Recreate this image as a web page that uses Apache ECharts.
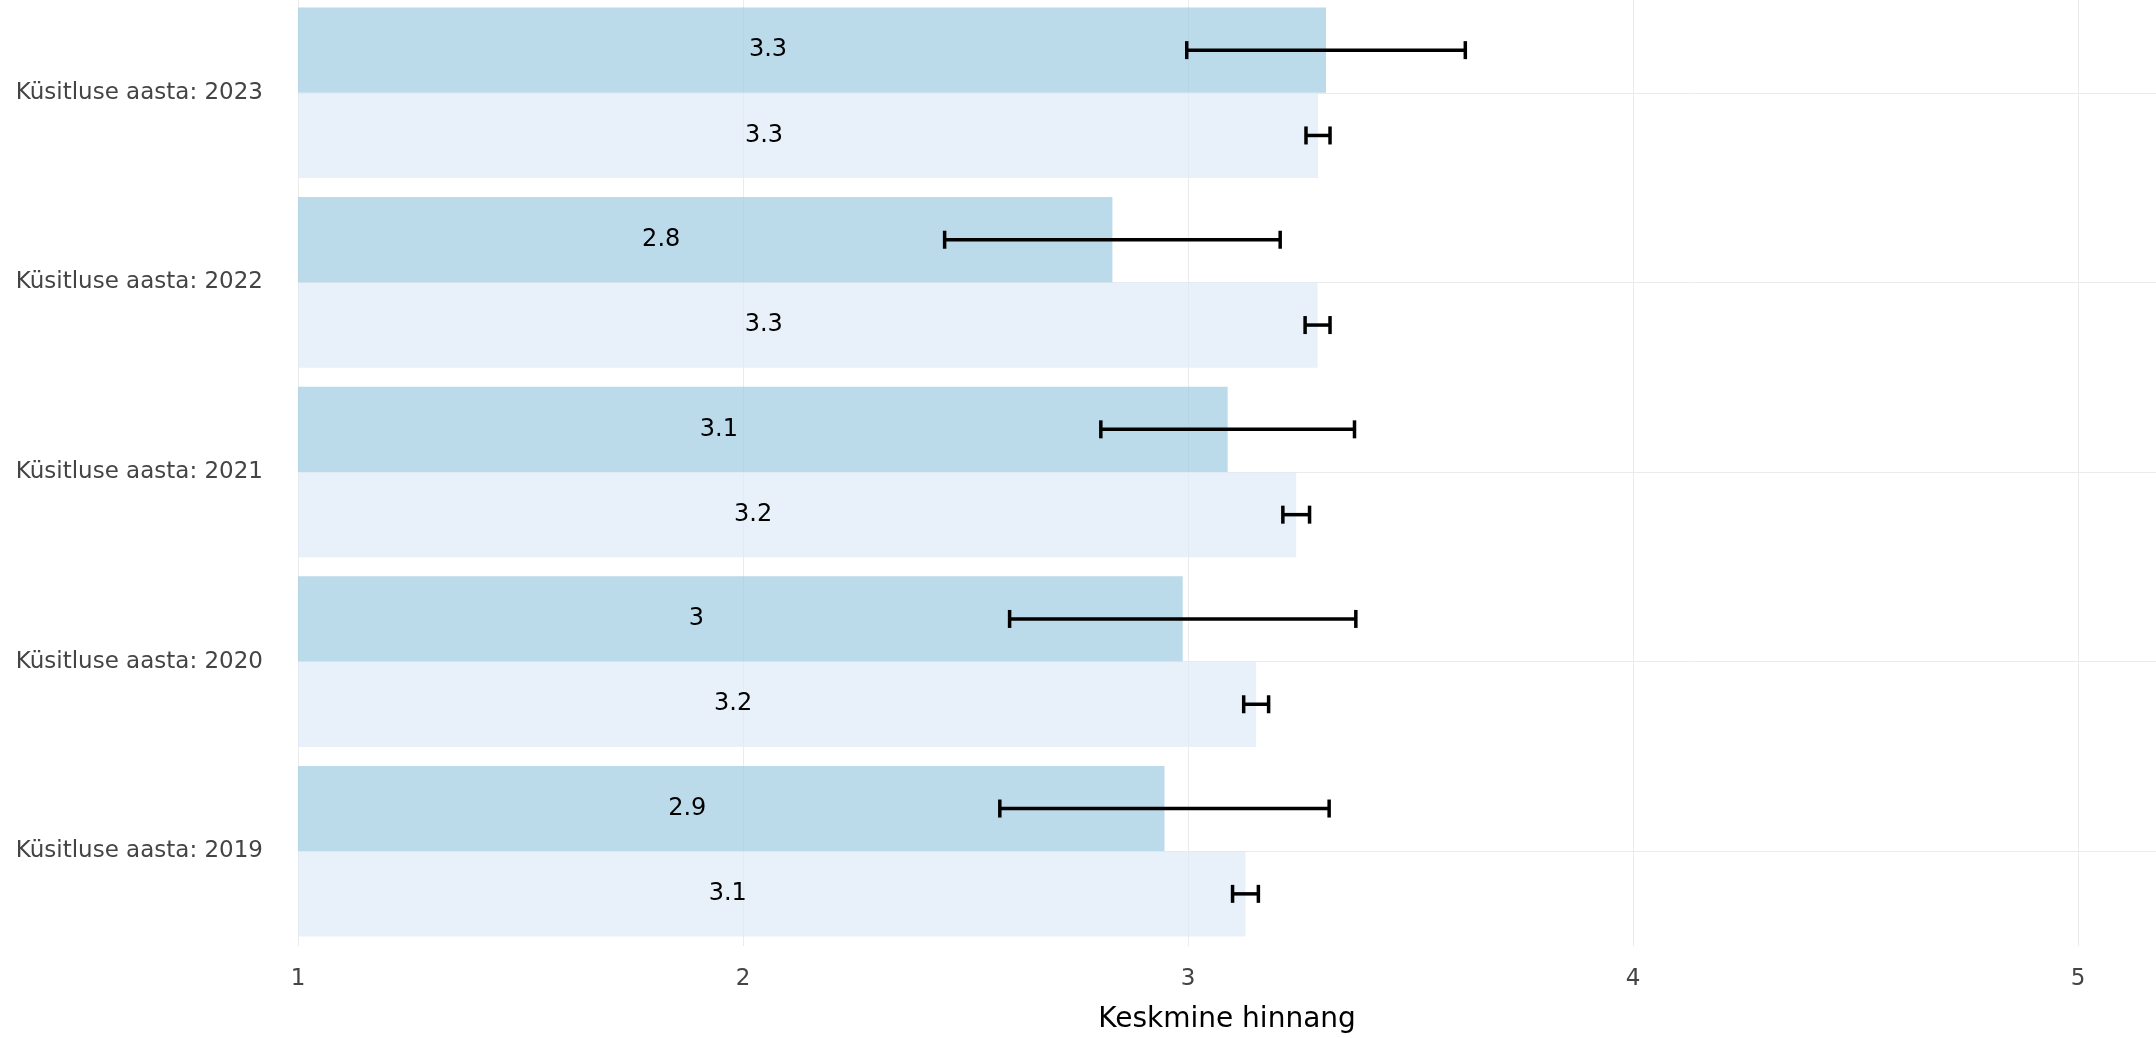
<!DOCTYPE html>
<html><head><meta charset="utf-8">
<script src="https://cdn.jsdelivr.net/npm/echarts@6/dist/echarts.min.js"></script>
<style>html,body{margin:0;padding:0;background:#fff}#c{width:2156px;height:1038px}</style>
</head><body><div id="c"></div>
<script>
const categories = ['Küsitluse aasta: 2019', 'Küsitluse aasta: 2020', 'Küsitluse aasta: 2021', 'Küsitluse aasta: 2022', 'Küsitluse aasta: 2023'];
const sampleMean = [2.947, 2.988, 3.089, 2.830, 3.310];
const sampleErr  = [0.370, 0.389, 0.285, 0.377, 0.313];
const totalMean  = [3.129, 3.153, 3.243, 3.291, 3.292];
const totalErr   = [0.029, 0.028, 0.030, 0.028, 0.027];
const xTicks = [1, 2, 3, 4, 5];

const FONT = 'DejaVu Sans';
const chart = echarts.init(document.getElementById('c'), null, {renderer: 'canvas'});

function errRender(sign) {
  return function (params, api) {
    const cat = api.value(0), lo = api.value(1), hi = api.value(2);
    const band = api.size([0, 1])[1];
    const p1 = api.coord([lo, cat]), p2 = api.coord([hi, cat]);
    const y = p1[1] + sign * band * 0.225;
    const cap = 9;
    const st = {stroke: '#000', lineWidth: 3.5};
    return {type: 'group', children: [
      {type: 'line', shape: {x1: p1[0], y1: y, x2: p2[0], y2: y}, style: st},
      {type: 'line', shape: {x1: p1[0], y1: y - cap, x2: p1[0], y2: y + cap}, style: st},
      {type: 'line', shape: {x1: p2[0], y1: y - cap, x2: p2[0], y2: y + cap}, style: st}
    ]};
  };
}
const fmt = p => String(+(+p.value).toFixed(1));

const option = {
  animation: false,
  grid: {left: 298, right: 0, top: -2, bottom: 92, containLabel: false, outerBoundsMode: 'none'},
  xAxis: {
    type: 'value', min: xTicks[0], max: 5.175, interval: 1,
    axisLine: {show: false}, axisTick: {show: false},
    axisLabel: {fontFamily: FONT, fontSize: 23, color: '#444', margin: 22,
      formatter: v => (xTicks.indexOf(v) >= 0 ? String(v) : '')},
    splitLine: {show: true, lineStyle: {color: '#ebebeb', width: 1}},
    name: 'Keskmine hinnang', nameLocation: 'middle', nameGap: 60,
    nameTextStyle: {fontFamily: FONT, fontSize: 28, color: '#000'}
  },
  yAxis: {
    type: 'category', data: categories,
    axisLine: {show: false}, axisTick: {show: false, alignWithLabel: true},
    axisLabel: {fontFamily: FONT, fontSize: 23, color: '#444', margin: 35},
    splitLine: {show: true, alignWithLabel: true, lineStyle: {color: '#ebebeb', width: 1}}
  },
  series: [
    {
      type: 'bar', name: 'valim', data: sampleMean,
      barCategoryGap: '10%', barGap: 0,
      itemStyle: {color: 'rgba(158,202,225,0.7)'},
      label: {show: true, position: 'inside', offset: [-44, 0], formatter: fmt,
        fontFamily: FONT, fontSize: 24, color: '#000'}
    },
    {
      type: 'bar', name: 'kokku', data: totalMean,
      barCategoryGap: '10%', barGap: 0,
      itemStyle: {color: 'rgba(222,235,247,0.7)'},
      label: {show: true, position: 'inside', offset: [-44, 0], formatter: fmt,
        fontFamily: FONT, fontSize: 24, color: '#000'}
    },
    {
      type: 'custom', name: 'valim viga', renderItem: errRender(-1),
      encode: {x: [1, 2], y: 0}, z: 5,
      data: categories.map((c, i) => [i, sampleMean[i] - sampleErr[i], sampleMean[i] + sampleErr[i]])
    },
    {
      type: 'custom', name: 'kokku viga', renderItem: errRender(1),
      encode: {x: [1, 2], y: 0}, z: 5,
      data: categories.map((c, i) => [i, totalMean[i] - totalErr[i], totalMean[i] + totalErr[i]])
    }
  ]
};
chart.setOption(option);
</script></body></html>
